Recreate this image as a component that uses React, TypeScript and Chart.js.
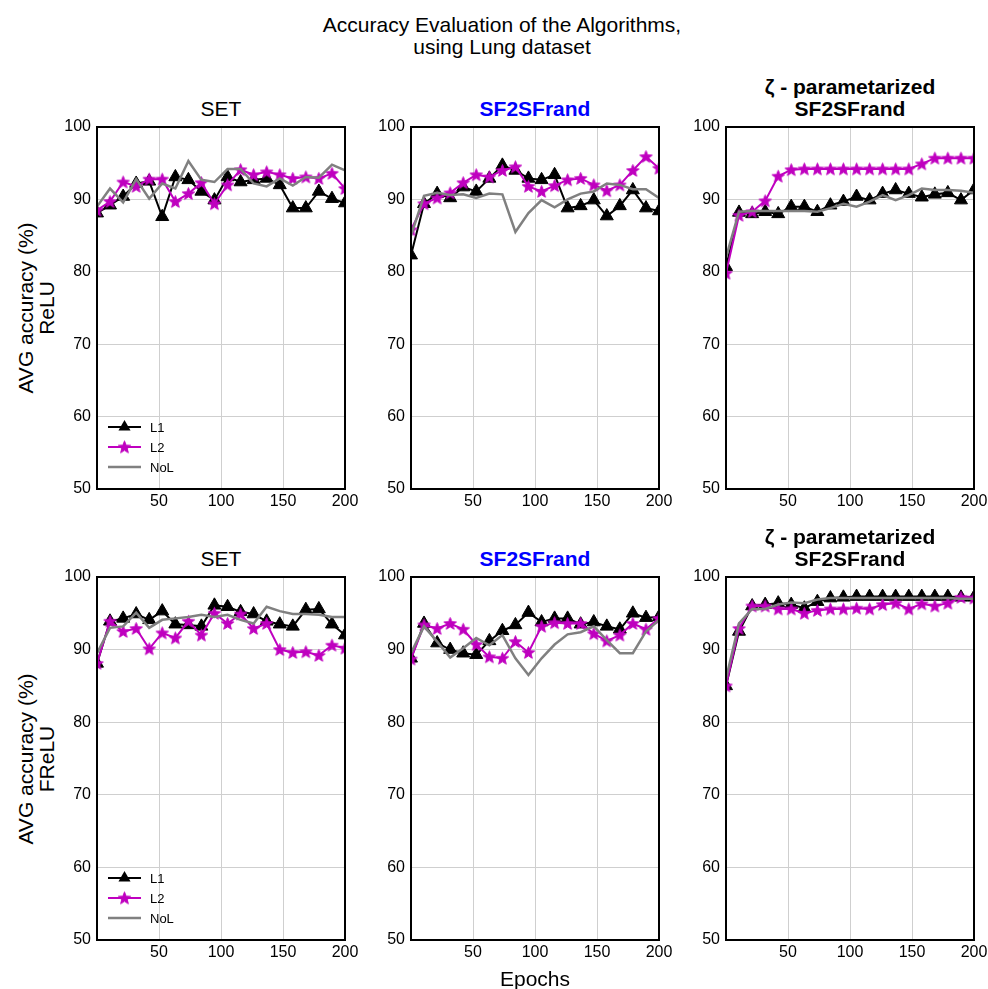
import React, { useEffect, useRef } from 'react';
import { Chart, registerables } from 'chart.js';

Chart.register(...registerables);

const FONT = '"Liberation Sans", Arial, Helvetica, sans-serif';
const MAGENTA = '#bf00bf';
const GRAY = '#808080';
const GRID = '#cfcfcf';

const epochs = [0, 10.5, 21.1, 31.6, 42.1, 52.6, 63.2, 73.7, 84.2, 94.7, 105.3, 115.8, 126.3, 136.8, 147.4, 157.9, 168.4, 178.9, 189.5, 200];
const xTicks = [50, 100, 150, 200];
const yTicks = [50, 60, 70, 80, 90, 100];

// ReLU row
const setReluL1 = [88.1, 89.2, 90.4, 92.2, 92.5, 87.6, 93.1, 92.7, 91.1, 89.9, 93.1, 92.4, 92.7, 92.9, 92.0, 88.8, 88.8, 91.1, 90.1, 89.5];
const setReluL2 = [88.5, 89.7, 92.4, 91.8, 92.8, 92.8, 89.7, 90.8, 92.3, 89.4, 92.0, 94.1, 93.4, 93.8, 93.4, 92.9, 93.1, 92.9, 93.6, 91.5];
const setReluNoL = [89.0, 91.5, 89.6, 92.8, 90.1, 92.2, 91.5, 95.3, 92.7, 92.4, 94.2, 94.2, 92.2, 91.8, 92.9, 91.9, 93.1, 93.0, 94.8, 94.0];

const sfReluL1 = [82.3, 89.4, 90.8, 90.2, 91.7, 91.1, 92.9, 94.7, 94.0, 92.9, 92.7, 93.4, 88.8, 89.1, 89.9, 87.7, 89.1, 91.3, 88.8, 88.4];
const sfReluL2 = [85.8, 89.4, 90.2, 90.9, 92.3, 93.4, 93.1, 94.0, 94.5, 91.8, 91.1, 91.9, 92.7, 92.9, 92.0, 91.2, 92.0, 94.0, 95.9, 94.3];
const sfReluNoL = [85.0, 90.5, 90.9, 90.6, 90.7, 90.2, 90.8, 90.7, 85.5, 88.1, 89.9, 88.9, 90.0, 90.8, 91.1, 92.2, 92.0, 91.4, 91.4, 90.2];

const zetaReluL1 = [80.7, 88.2, 88.0, 88.3, 88.0, 89.0, 89.0, 88.3, 89.2, 89.7, 90.4, 89.9, 90.8, 91.3, 90.8, 90.3, 90.7, 90.9, 89.9, 91.3];
const zetaReluL2 = [79.8, 87.8, 88.3, 89.8, 93.2, 94.1, 94.2, 94.2, 94.2, 94.2, 94.2, 94.2, 94.2, 94.2, 94.2, 94.9, 95.7, 95.7, 95.7, 95.7];
const zetaReluNoL = [82.0, 88.3, 88.4, 88.4, 88.4, 88.4, 88.4, 88.3, 88.8, 89.4, 89.0, 89.7, 90.6, 89.9, 90.6, 91.5, 91.3, 91.3, 91.2, 90.9];

// FReLU row
const setFreluL1 = [88.1, 93.9, 94.3, 94.9, 94.1, 95.3, 93.5, 93.4, 93.2, 96.1, 95.9, 95.2, 94.9, 93.9, 93.5, 93.2, 95.5, 95.6, 93.5, 92.0];
const setFreluL2 = [88.1, 93.9, 92.5, 92.9, 90.1, 92.3, 91.6, 93.9, 92.0, 95.0, 93.6, 94.9, 92.9, 93.6, 90.0, 89.6, 89.7, 89.2, 90.6, 90.2];
const setFreluNoL = [89.5, 93.0, 93.2, 95.1, 93.0, 94.1, 94.3, 94.5, 94.8, 94.5, 94.8, 94.1, 93.6, 95.9, 95.3, 94.9, 94.9, 94.8, 94.5, 94.5];

const sfFreluL1 = [88.8, 93.6, 90.9, 90.0, 89.5, 89.3, 91.2, 92.6, 93.4, 95.1, 93.8, 94.3, 94.3, 93.5, 93.8, 93.2, 92.8, 95.0, 94.4, 94.5];
const sfFreluL2 = [88.7, 93.4, 92.9, 93.6, 92.8, 90.7, 89.0, 88.8, 91.1, 89.6, 93.2, 93.7, 93.6, 93.6, 92.2, 91.2, 92.0, 93.6, 92.8, 94.3];
const sfFreluNoL = [89.5, 93.2, 91.1, 88.9, 90.2, 91.6, 90.6, 92.0, 88.8, 86.5, 88.8, 90.7, 92.1, 92.4, 93.2, 91.3, 89.5, 89.5, 92.5, 94.1];

const zetaFreluL1 = [85.0, 92.5, 96.0, 96.2, 96.4, 96.2, 95.7, 96.6, 97.1, 97.2, 97.3, 97.3, 97.3, 97.3, 97.3, 97.3, 97.3, 97.3, 97.2, 97.2];
const zetaFreluL2 = [85.0, 92.9, 96.0, 96.0, 95.6, 95.6, 95.0, 95.4, 95.6, 95.6, 95.7, 95.6, 96.2, 96.4, 95.6, 96.3, 96.0, 96.4, 97.2, 97.1];
const zetaFreluNoL = [86.0, 93.6, 95.6, 95.6, 96.2, 96.5, 96.4, 96.9, 97.1, 97.1, 97.1, 97.1, 97.1, 97.1, 97.1, 97.1, 97.1, 97.1, 97.0, 97.0];

const PADL = 60;
const PADR = 24;
const PADT = 22;
const PADB = 30;

function makeStar(color: string, outer: number, inner: number): HTMLCanvasElement {
  const size = Math.ceil(outer * 2 + 2);
  const c = document.createElement('canvas');
  c.width = size;
  c.height = size;
  const ctx = c.getContext('2d')!;
  ctx.translate(size / 2, size / 2 + 0.5);
  ctx.beginPath();
  for (let i = 0; i < 10; i++) {
    const r = i % 2 === 0 ? outer : inner;
    const a = -Math.PI / 2 + (i * Math.PI) / 5;
    const px = Math.cos(a) * r;
    const py = Math.sin(a) * r;
    if (i === 0) ctx.moveTo(px, py);
    else ctx.lineTo(px, py);
  }
  ctx.closePath();
  ctx.fillStyle = color;
  ctx.fill();
  ctx.strokeStyle = color;
  ctx.lineWidth = 1;
  ctx.stroke();
  return c;
}

const framePlugin = {
  id: 'frame',
  afterDatasetsDraw(chart: any) {
    const { ctx, chartArea } = chart;
    ctx.save();
    ctx.strokeStyle = '#000';
    ctx.lineWidth = 2;
    ctx.strokeRect(chartArea.left, chartArea.top, chartArea.right - chartArea.left, chartArea.bottom - chartArea.top);
    ctx.restore();
  },
};

function makeLegendPlugin(star: HTMLCanvasElement) {
  return {
    id: 'innerLegend',
    afterDraw(chart: any) {
      const { ctx, chartArea } = chart;
      const x0 = chartArea.left + 11;
      const x1 = x0 + 33;
      const xm = (x0 + x1) / 2;
      const rows = [
        { label: 'L1', y: chartArea.bottom - 62, color: '#000', width: 2, marker: 'tri' },
        { label: 'L2', y: chartArea.bottom - 42, color: MAGENTA, width: 2, marker: 'star' },
        { label: 'NoL', y: chartArea.bottom - 22, color: GRAY, width: 2.5, marker: 'none' },
      ];
      ctx.save();
      rows.forEach((r) => {
        ctx.beginPath();
        ctx.strokeStyle = r.color;
        ctx.lineWidth = r.width;
        ctx.moveTo(x0, r.y);
        ctx.lineTo(x1, r.y);
        ctx.stroke();
        if (r.marker === 'tri') {
          const rad = 7;
          ctx.beginPath();
          ctx.fillStyle = '#000';
          ctx.moveTo(xm, r.y - rad);
          ctx.lineTo(xm + rad * 0.866, r.y + rad * 0.5);
          ctx.lineTo(xm - rad * 0.866, r.y + rad * 0.5);
          ctx.closePath();
          ctx.fill();
        } else if (r.marker === 'star') {
          ctx.drawImage(star, xm - star.width / 2, r.y - star.height / 2);
        }
        ctx.fillStyle = '#000';
        ctx.font = `13px ${FONT}`;
        ctx.textBaseline = 'middle';
        ctx.textAlign = 'left';
        ctx.fillText(r.label, x1 + 9, r.y + 1);
      });
      ctx.restore();
    },
  };
}

type PanelProps = {
  left: number;
  top: number;
  width: number;
  height: number;
  l1: number[];
  l2: number[];
  nol: number[];
  legend?: boolean;
};

function Panel({ left, top, width, height, l1, l2, nol, legend }: PanelProps) {
  const ref = useRef<HTMLCanvasElement>(null);
  useEffect(() => {
    const canvas = ref.current;
    if (!canvas) return;
    const star = makeStar(MAGENTA, 6.5, 2.8);
    const toPts = (arr: number[]) => epochs.map((x, i) => ({ x, y: arr[i] }));
    const plugins: any[] = [framePlugin];
    if (legend) plugins.push(makeLegendPlugin(star));
    const chart = new Chart(canvas, {
      type: 'line',
      data: {
        datasets: [
          {
            label: 'NoL',
            data: toPts(nol),
            borderColor: GRAY,
            borderWidth: 2.5,
            pointRadius: 0,
            tension: 0,
            clip: 0,
          } as any,
          {
            label: 'L2',
            data: toPts(l2),
            borderColor: MAGENTA,
            backgroundColor: MAGENTA,
            borderWidth: 2,
            pointStyle: star,
            pointRadius: 7,
            tension: 0,
            clip: 0,
          } as any,
          {
            label: 'L1',
            data: toPts(l1),
            borderColor: '#000',
            backgroundColor: '#000',
            borderWidth: 2,
            pointStyle: 'triangle',
            pointRadius: 7.5,
            pointBackgroundColor: '#000',
            pointBorderColor: '#000',
            pointBorderWidth: 1,
            tension: 0,
            clip: 0,
          } as any,
        ],
      },
      options: {
        responsive: false,
        animation: false,
        events: [],
        layout: { padding: { left: 0, right: PADR, top: PADT, bottom: 0 } },
        plugins: {
          legend: { display: false },
          tooltip: { enabled: false },
          title: { display: false },
        },
        scales: {
          x: {
            type: 'linear',
            min: 0,
            max: 200,
            afterBuildTicks: (s: any) => {
              s.ticks = xTicks.map((v) => ({ value: v }));
            },
            afterFit: (s: any) => {
              s.height = PADB;
            },
            grid: { color: GRID, lineWidth: 1, drawTicks: false },
            border: { display: false },
            ticks: {
              font: { family: FONT, size: 16 },
              color: '#000',
              padding: 3,
              maxRotation: 0,
              autoSkip: false,
            },
          },
          y: {
            type: 'linear',
            min: 50,
            max: 100,
            afterBuildTicks: (s: any) => {
              s.ticks = yTicks.map((v) => ({ value: v }));
            },
            afterFit: (s: any) => {
              s.width = PADL;
            },
            grid: { color: GRID, lineWidth: 1, drawTicks: false },
            border: { display: false },
            ticks: {
              font: { family: FONT, size: 16 },
              color: '#000',
              padding: 6,
              autoSkip: false,
            },
          },
        },
      } as any,
      plugins,
    });
    const ca = chart.chartArea;
    if (ca) {
      canvas.style.left = `${left - ca.left}px`;
      canvas.style.top = `${top - ca.top}px`;
    }
    return () => chart.destroy();
  }, []);
  return (
    <canvas
      ref={ref}
      width={width + PADL + PADR}
      height={height + PADT + PADB}
      style={{ position: 'absolute', left: left - PADL, top: top - PADT }}
    />
  );
}

function Label({ x, y, text, size = 21, bold = false, color = '#000', rotate = false }: any) {
  return (
    <div
      style={{
        position: 'absolute',
        left: x,
        top: y,
        transform: `translate(-50%, -50%)${rotate ? ' rotate(-90deg)' : ''}`,
        fontFamily: FONT,
        fontSize: size,
        fontWeight: bold ? 'bold' : 'normal',
        color,
        whiteSpace: 'nowrap',
        lineHeight: 1,
      }}
    >
      {text}
    </div>
  );
}

const colLefts = [97, 411, 726];
const colWidth = 248;
const rowTops = [127, 577];
const rowHeights = [362, 363];

export default function App() {
  const rows = [
    [
      [setReluL1, setReluL2, setReluNoL],
      [sfReluL1, sfReluL2, sfReluNoL],
      [zetaReluL1, zetaReluL2, zetaReluNoL],
    ],
    [
      [setFreluL1, setFreluL2, setFreluNoL],
      [sfFreluL1, sfFreluL2, sfFreluNoL],
      [zetaFreluL1, zetaFreluL2, zetaFreluNoL],
    ],
  ];
  const rowNames = ['ReLU', 'FReLU'];
  return (
    <div style={{ position: 'absolute', left: 0, top: 0, width: 988, height: 989, background: '#fff', overflow: 'hidden' }}>
      <Label x={502} y={24} text="Accuracy Evaluation of the Algorithms," />
      <Label x={502} y={46} text="using Lung dataset" />
      {rows.map((row, r) => {
        const top = rowTops[r];
        const h = rowHeights[r];
        const cy = top + h / 2;
        return (
          <React.Fragment key={r}>
            <Label x={colLefts[0] + colWidth / 2} y={top - 19} text="SET" />
            <Label x={colLefts[1] + colWidth / 2} y={top - 19} text="SF2SFrand" bold color="#0000ff" />
            <Label x={colLefts[2] + colWidth / 2} y={top - 41} text="ζ - parametarized" bold />
            <Label x={colLefts[2] + colWidth / 2} y={top - 19} text="SF2SFrand" bold />
            <Label x={25} y={cy} text="AVG accuracy (%)" rotate />
            <Label x={46} y={cy} text={rowNames[r]} rotate />
            {row.map((d, c) => (
              <Panel
                key={c}
                left={colLefts[c]}
                top={top}
                width={colWidth}
                height={h}
                l1={d[0]}
                l2={d[1]}
                nol={d[2]}
                legend={c === 0}
              />
            ))}
          </React.Fragment>
        );
      })}
      <Label x={535} y={978} text="Epochs" />
    </div>
  );
}
